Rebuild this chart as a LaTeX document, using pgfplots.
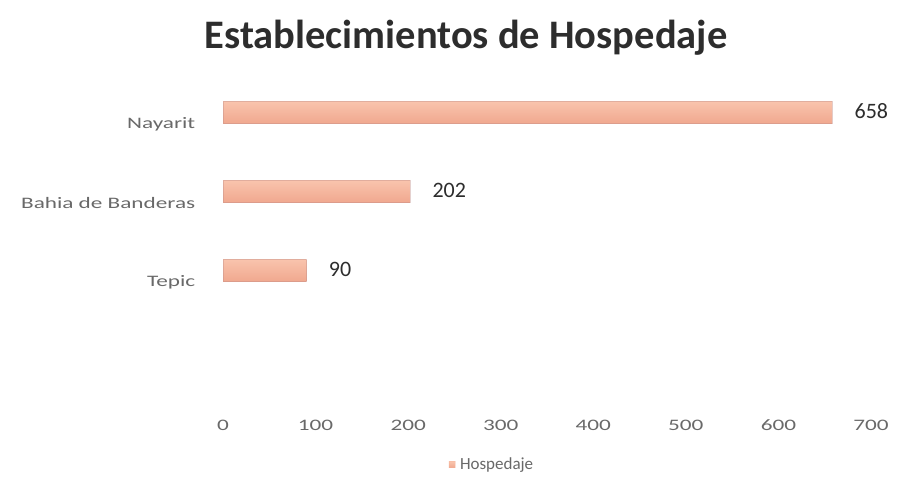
\documentclass[border=0pt]{standalone}
\usepackage{pgfplots}
\pgfplotsset{compat=1.18}
\usepackage{fontspec}
\setmainfont{Carlito}
\definecolor{barfill}{RGB}{245,178,152}
\definecolor{bartop}{RGB}{249,196,173}
\definecolor{barbot}{RGB}{240,168,143}
\definecolor{bardark}{RGB}{190,140,135}
\definecolor{labgray}{RGB}{105,105,105}
\definecolor{titlegray}{RGB}{45,45,45}
\newcommand{\wide}[1]{\scalebox{1.45}[1]{#1}}
\begin{document}
\begin{tikzpicture}
\useasboundingbox (0pt,0pt) rectangle (900pt,481pt);
\begin{axis}[
  at={(223pt,68pt)}, anchor=south west,
  width=648pt, height=340pt, scale only axis,
  xbar, bar width=22pt, bar shift=0pt,
  xmin=0, xmax=700, ymin=-0.81, ymax=3.5,
  axis line style={draw=none},
  xtick={0,100,...,700},
  xticklabels={\wide{0},\wide{100},\wide{200},\wide{300},\wide{400},\wide{500},\wide{600},\wide{700}},
  ytick={1,2,3},
  yticklabels={\wide{Tepic},\wide{Bahia de Banderas},\wide{Nayarit}},
  tick style={draw=none},
  xticklabel style={font=\fontsize{16}{16}\selectfont, text=labgray, text height=11pt, text depth=3pt, yshift=-3pt},
  yticklabel style={font=\fontsize{16}{16}\selectfont, text=labgray, yshift=-12pt, xshift=-20pt},
  /pgf/number format/assume math mode=true,
  nodes near coords,
  every node near coord/.append style={font=\fontsize{22}{22}\selectfont, text=titlegray, anchor=west, xshift=19pt, yshift=1pt},
  legend style={at={(0.415,-0.12)}, anchor=north, draw=none, font=\fontsize{17}{17}\selectfont, text=labgray},
  legend image code/.code={\fill[barfill] (0pt,-3pt) rectangle (6pt,3pt);},
  legend cell align=left,
]
\addplot[top color=bartop, bottom color=barbot, draw=bardark, draw opacity=0.4] coordinates {(658,3)};
\addlegendentry{\hspace{3pt}Hospedaje}
\addplot[forget plot, top color=bartop, bottom color=barbot, draw=bardark, draw opacity=0.4] coordinates {(202,2)};
\addplot[forget plot, top color=bartop, bottom color=barbot, draw=bardark, draw opacity=0.4] coordinates {(90,1)};
\end{axis}
\node[font=\fontsize{40.5}{40.5}\selectfont\bfseries, text=titlegray] at (466pt,443pt) {Establecimientos de Hospedaje};
\end{tikzpicture}
\end{document}
